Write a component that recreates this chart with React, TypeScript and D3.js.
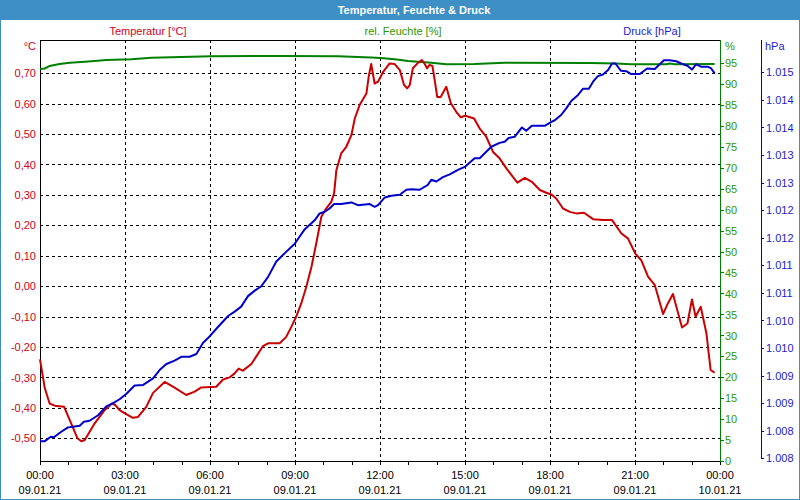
import React from "react";
import * as d3 from "d3";

const title = "Temperatur, Feuchte & Druck";

const timeTickHours = [0, 3, 6, 9, 12, 15, 18, 21, 24];
const timeTickLabels = ["00:00", "03:00", "06:00", "09:00", "12:00", "15:00", "18:00", "21:00", "00:00"];
const dateTickLabels = ["09.01.21", "09.01.21", "09.01.21", "09.01.21", "09.01.21", "09.01.21", "09.01.21", "09.01.21", "10.01.21"];

const tempTicks = [0.7, 0.6, 0.5, 0.4, 0.3, 0.2, 0.1, 0, -0.1, -0.2, -0.3, -0.4, -0.5];
const tempTickLabels = ["0,70", "0,60", "0,50", "0,40", "0,30", "0,20", "0,10", "0,00", "-0,10", "-0,20", "-0,30", "-0,40", "-0,50"];

const humTicks = [0, 5, 10, 15, 20, 25, 30, 35, 40, 45, 50, 55, 60, 65, 70, 75, 80, 85, 90, 95];

const pressTicks = [1015, 1014.5, 1014, 1013.5, 1013, 1012.5, 1012, 1011.5, 1011, 1010.5, 1010, 1009.5, 1009, 1008.5, 1008];
const pressTickLabels = ["1.015", "1.014", "1.014", "1.013", "1.013", "1.012", "1.012", "1.011", "1.011", "1.010", "1.010", "1.009", "1.009", "1.008", "1.008"];

const tempHours = [0, 0.17, 0.34, 0.52, 0.85, 1.1, 1.32, 1.46, 1.58, 1.93, 2.28, 2.54, 2.66, 2.81, 3.01, 3.28, 3.46, 3.75, 3.99, 4.4, 4.75, 5.16, 5.46, 5.69, 6.22, 6.46, 6.7, 6.87, 7.01, 7.16, 7.46, 7.63, 7.87, 8.05, 8.46, 8.69, 8.87, 9.05, 9.22, 9.4, 9.58, 9.75, 9.93, 10.1, 10.28, 10.38, 10.46, 10.63, 10.81, 10.99, 11.11, 11.28, 11.52, 11.6, 11.69, 11.81, 11.93, 12.11, 12.34, 12.52, 12.7, 12.85, 12.96, 13.05, 13.16, 13.34, 13.48, 13.58, 13.66, 13.75, 13.85, 13.93, 14.02, 14.14, 14.34, 14.5, 14.69, 14.85, 15.01, 15.32, 15.52, 15.75, 15.99, 16.22, 16.46, 16.69, 16.85, 17.11, 17.36, 17.64, 17.87, 18.05, 18.22, 18.46, 18.7, 18.93, 19.2, 19.52, 19.87, 20.19, 20.52, 20.75, 21.01, 21.22, 21.46, 21.7, 21.85, 21.99, 22.16, 22.34, 22.46, 22.66, 22.85, 23.01, 23.14, 23.32, 23.52, 23.67, 23.81];
const tempValues = [-0.241, -0.336, -0.386, -0.393, -0.397, -0.451, -0.5, -0.51, -0.506, -0.451, -0.408, -0.386, -0.391, -0.408, -0.419, -0.433, -0.43, -0.397, -0.351, -0.315, -0.334, -0.358, -0.347, -0.333, -0.331, -0.307, -0.3, -0.287, -0.271, -0.278, -0.256, -0.232, -0.197, -0.188, -0.188, -0.167, -0.134, -0.099, -0.057, -0.002, 0.063, 0.14, 0.228, 0.255, 0.277, 0.305, 0.381, 0.436, 0.458, 0.496, 0.551, 0.595, 0.633, 0.688, 0.73, 0.666, 0.672, 0.704, 0.732, 0.73, 0.71, 0.661, 0.65, 0.661, 0.716, 0.734, 0.743, 0.73, 0.716, 0.727, 0.724, 0.677, 0.622, 0.622, 0.655, 0.601, 0.573, 0.555, 0.56, 0.551, 0.518, 0.491, 0.441, 0.42, 0.387, 0.359, 0.34, 0.356, 0.343, 0.316, 0.307, 0.301, 0.288, 0.255, 0.244, 0.239, 0.241, 0.22, 0.217, 0.217, 0.173, 0.157, 0.107, 0.085, 0.031, 0.003, -0.046, -0.092, -0.057, -0.026, -0.068, -0.136, -0.123, -0.044, -0.101, -0.068, -0.155, -0.276, -0.285];

const humHours = [0, 0.17, 0.34, 0.69, 1.05, 1.58, 1.93, 2.34, 3.22, 3.93, 5.34, 6.05, 8.51, 10.52, 11.69, 12.02, 12.52, 12.99, 13.81, 14.34, 15.34, 16.4, 19.4, 20.34, 20.85, 22.1, 22.22, 22.4, 23.81];
const humValues = [93.56, 93.7, 94.3, 94.75, 95.06, 95.3, 95.5, 95.7, 95.9, 96.25, 96.5, 96.6, 96.7, 96.6, 96.3, 96.2, 95.9, 95.5, 95.06, 94.7, 94.75, 95.06, 95.0, 94.9, 94.7, 94.7, 94.9, 94.7, 94.75];

const pressHours = [0, 0.17, 0.38, 0.49, 0.75, 0.99, 1.16, 1.4, 1.55, 1.75, 2.05, 2.34, 2.58, 2.81, 3.05, 3.34, 3.64, 3.99, 4.22, 4.46, 4.75, 4.99, 5.28, 5.52, 5.75, 5.93, 6.28, 6.64, 6.87, 7.1, 7.34, 7.58, 7.81, 8.05, 8.34, 8.64, 8.99, 9.34, 9.7, 9.87, 10.05, 10.22, 10.38, 10.63, 10.99, 11.22, 11.64, 11.81, 11.93, 12.17, 12.4, 12.7, 12.93, 13.1, 13.4, 13.69, 13.81, 13.99, 14.22, 14.46, 14.75, 15.01, 15.34, 15.52, 15.75, 15.93, 16.22, 16.4, 16.54, 16.75, 17.01, 17.16, 17.36, 17.81, 18.05, 18.17, 18.4, 18.58, 18.75, 18.99, 19.16, 19.37, 19.52, 19.69, 19.87, 20.05, 20.19, 20.31, 20.5, 20.69, 20.85, 21.17, 21.43, 21.7, 22.02, 22.22, 22.46, 22.63, 22.85, 23.01, 23.16, 23.34, 23.58, 23.69, 23.81];
const pressValues = [1008.31, 1008.31, 1008.39, 1008.38, 1008.48, 1008.56, 1008.57, 1008.59, 1008.66, 1008.68, 1008.78, 1008.94, 1009.0, 1009.07, 1009.17, 1009.32, 1009.33, 1009.45, 1009.6, 1009.71, 1009.77, 1009.84, 1009.84, 1009.89, 1010.09, 1010.18, 1010.38, 1010.58, 1010.66, 1010.75, 1010.94, 1011.04, 1011.12, 1011.29, 1011.57, 1011.72, 1011.89, 1012.15, 1012.32, 1012.44, 1012.47, 1012.53, 1012.61, 1012.61, 1012.64, 1012.59, 1012.61, 1012.56, 1012.59, 1012.73, 1012.76, 1012.78, 1012.87, 1012.88, 1012.87, 1012.96, 1013.05, 1013.02, 1013.1, 1013.15, 1013.23, 1013.29, 1013.44, 1013.44, 1013.56, 1013.65, 1013.72, 1013.74, 1013.81, 1013.83, 1014.0, 1013.94, 1014.03, 1014.03, 1014.1, 1014.13, 1014.23, 1014.35, 1014.48, 1014.59, 1014.7, 1014.7, 1014.83, 1014.93, 1014.96, 1015.04, 1015.16, 1015.16, 1015.03, 1015.02, 1014.97, 1014.97, 1015.07, 1015.06, 1015.22, 1015.22, 1015.2, 1015.16, 1015.12, 1015.05, 1015.15, 1015.1, 1015.1, 1015.07, 1014.98];

const RED = "#CC0000";
const RED_TXT = "#D0001C";
const GREEN = "#008000";
const GREEN_TXT = "#2E9600";
const BLUE = "#0000CC";
const BLUE_TXT = "#1C1CCC";
const FRAME = "#3D8FC6";
const FONT = "'Liberation Sans', Arial, sans-serif";

export default function App() {
  const W = 800, H = 500;
  const L = 40, R = 720, T = 40, B = 461;
  const x = d3.scaleLinear().domain([0, 24]).range([L, R]);
  const yT = d3.scaleLinear().domain([-0.575, 0.809]).range([B, T]);
  const yH = d3.scaleLinear().domain([0, 100.5]).range([B, T]);
  const yP = d3.scaleLinear().domain([1007.95, 1015.586]).range([B, T]);

  const tempData = tempHours.map((h, i) => [h, tempValues[i]] as [number, number]);
  const humData = humHours.map((h, i) => [h, humValues[i]] as [number, number]);
  const pressData = pressHours.map((h, i) => [h, pressValues[i]] as [number, number]);

  const tempLine = d3.line<[number, number]>().x(d => x(d[0])).y(d => yT(d[1]));
  const humLine = d3.line<[number, number]>().x(d => x(d[0])).y(d => yH(d[1]));
  const pressLine = d3.line<[number, number]>().x(d => x(d[0])).y(d => yP(d[1]));

  const hours = d3.range(0, 25);
  const axisX = 761;

  return (
    <svg width={W} height={H} style={{ position: "fixed", left: 0, top: 0, display: "block", background: "#fff" }} fontFamily={FONT} fontSize={11}>
      <rect x={0} y={0} width={W} height={H} fill="#ffffff" />
      <rect x={0} y={0} width={W} height={20} fill={FRAME} />
      <rect x={0.5} y={0.5} width={W - 1} height={H - 1} fill="none" stroke={FRAME} />
      <text x={414} y={14} textAnchor="middle" fill="#ffffff" fontWeight="bold" fontSize={11}>{title}</text>

      {/* grid */}
      <g stroke="#000" strokeDasharray="3,3" shapeRendering="crispEdges">
        {tempTicks.map((v, i) => (
          <line key={"h" + i} x1={L} x2={R} y1={Math.round(yT(v)) + 0.5} y2={Math.round(yT(v)) + 0.5} />
        ))}
        {timeTickHours.slice(1, -1).map((h, i) => (
          <line key={"v" + i} x1={Math.round(x(h)) + 0.5} x2={Math.round(x(h)) + 0.5} y1={T} y2={B} />
        ))}
      </g>

      {/* frame axes */}
      <g shapeRendering="crispEdges">
        <line x1={L} x2={R} y1={T + 0.5} y2={T + 0.5} stroke="#000" />
        <line x1={L + 0.5} x2={L + 0.5} y1={T} y2={B + 1} stroke="#000" />
        <line x1={L} x2={R + 1} y1={B + 0.5} y2={B + 0.5} stroke="#000" />
        {hours.map(h => (
          <line key={"t" + h} x1={Math.round(x(h)) + 0.5} x2={Math.round(x(h)) + 0.5} y1={B} y2={B + 4} stroke="#000" />
        ))}
        <line x1={R + 0.5} x2={R + 0.5} y1={T} y2={B + 1} stroke={GREEN} />
        {humTicks.map(v => (
          <line key={"g" + v} x1={R} x2={R + 4} y1={Math.round(yH(v)) + 0.5} y2={Math.round(yH(v)) + 0.5} stroke={GREEN} />
        ))}
        <line x1={axisX + 0.5} x2={axisX + 0.5} y1={T} y2={B - 2} stroke={BLUE} />
        {pressTicks.map((v, i) => (
          <line key={"p" + i} x1={axisX} x2={axisX + 3} y1={Math.round(yP(v)) + 0.5} y2={Math.round(yP(v)) + 0.5} stroke={BLUE} />
        ))}
      </g>

      {/* series */}
      <path d={humLine(humData) || ""} fill="none" stroke={GREEN} strokeWidth={2} />
      <path d={tempLine(tempData) || ""} fill="none" stroke={RED} strokeWidth={2} strokeLinejoin="round" />
      <path d={pressLine(pressData) || ""} fill="none" stroke={BLUE} strokeWidth={2} strokeLinejoin="round" />

      {/* labels */}
      <text x={148} y={35} textAnchor="middle" fill={RED_TXT}>Temperatur [°C]</text>
      <text x={403} y={35} textAnchor="middle" fill={GREEN_TXT}>rel. Feuchte [%]</text>
      <text x={652} y={35} textAnchor="middle" fill={BLUE_TXT}>Druck [hPa]</text>
      <text x={36} y={50} textAnchor="end" fill={RED_TXT}>°C</text>
      <text x={725} y={50} fill={GREEN_TXT}>%</text>
      <text x={765} y={50} fill={BLUE_TXT}>hPa</text>

      {tempTicks.map((v, i) => (
        <text key={"tl" + i} x={36} y={yT(v)} dy="0.38em" textAnchor="end" fill={RED_TXT}>{tempTickLabels[i]}</text>
      ))}
      {humTicks.map(v => (
        <text key={"hl" + v} x={725} y={yH(v)} dy="0.38em" fill={GREEN_TXT}>{String(v)}</text>
      ))}
      {pressTicks.map((v, i) => (
        <text key={"pl" + i} x={766} y={yP(v)} dy="0.38em" fill={BLUE_TXT}>{pressTickLabels[i]}</text>
      ))}
      {timeTickHours.map((h, i) => (
        <g key={"xl" + i}>
          <text x={x(h)} y={479} textAnchor="middle" fill="#000">{timeTickLabels[i]}</text>
          <text x={x(h)} y={494} textAnchor="middle" fill="#000">{dateTickLabels[i]}</text>
        </g>
      ))}
    </svg>
  );
}
